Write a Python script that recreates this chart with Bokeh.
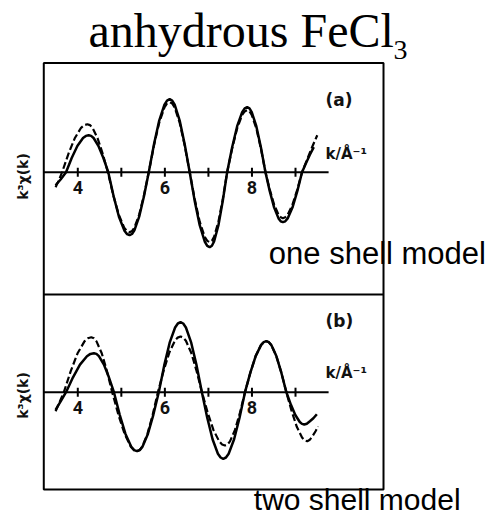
from bokeh.plotting import figure
from bokeh.models import Range1d
from bokeh.core.properties import value
from bokeh.embed import file_html
from bokeh.resources import INLINE

# ---------------- data ----------------
# panel (a): one shell model
a_solid_k = [3.49, 3.61, 3.73, 3.86, 3.99, 4.12, 4.185, 4.25, 4.306, 4.363, 4.475, 4.588, 4.70,
             4.823, 4.945, 5.068, 5.129, 5.19, 5.245, 5.30, 5.41, 5.52, 5.63, 5.75, 5.87, 5.99,
             6.05, 6.11, 6.168, 6.225, 6.34, 6.455, 6.57, 6.685, 6.80, 6.915, 6.973, 7.03, 7.08,
             7.13, 7.23, 7.33, 7.43, 7.545, 7.66, 7.775, 7.833, 7.89, 7.943, 7.995, 8.10, 8.205,
             8.31, 8.41, 8.51, 8.61, 8.66, 8.71, 8.765, 8.82, 8.93, 9.04, 9.15, 9.24, 9.33, 9.42]
a_solid_y = [-1.3, -0.7, 0, 1.42, 2.62, 3.42, 3.63, 3.7, 3.63, 3.42, 2.62, 1.42, 0,
             -2.41, -4.45, -5.82, -6.18, -6.3, -6.18, -5.82, -4.45, -2.41, 0, 2.80, 5.16, 6.75,
             7.16, 7.3, 7.16, 6.75, 5.16, 2.80, 0, -2.87, -5.30, -6.93, -7.36, -7.5, -7.36,
             -6.93, -5.30, -2.87, 0, 2.49, 4.60, 6.01, 6.38, 6.5, 6.38, 6.01, 4.60, 2.49,
             0, -1.92, -3.54, -4.62, -4.91, -5.0, -4.91, -4.62, -3.54, -1.92, 0, 0.9, 1.75, 2.5]

a_dash_k = [3.49, 3.565, 3.64, 3.785, 3.93, 4.075, 4.148, 4.22, 4.279, 4.338, 4.455, 4.573, 4.69,
            4.815, 4.94, 5.065, 5.128, 5.19, 5.245, 5.30, 5.41, 5.52, 5.63, 5.75, 5.87, 5.99,
            6.05, 6.11, 6.168, 6.225, 6.34, 6.455, 6.57, 6.685, 6.80, 6.915, 6.973, 7.03, 7.08,
            7.13, 7.23, 7.33, 7.43, 7.545, 7.66, 7.775, 7.833, 7.89, 7.943, 7.995, 8.10, 8.205,
            8.31, 8.41, 8.51, 8.61, 8.66, 8.71, 8.765, 8.82, 8.93, 9.04, 9.15, 9.27, 9.39, 9.50]
a_dash_y = [-1.5, -0.8, 0, 1.84, 3.39, 4.44, 4.71, 4.8, 4.71, 4.44, 3.39, 1.84, 0,
            -2.30, -4.24, -5.54, -5.89, -6.0, -5.89, -5.54, -4.24, -2.30, 0, 2.68, 4.95, 6.47,
            6.87, 7.0, 6.87, 6.47, 4.95, 2.68, 0, -2.68, -4.95, -6.47, -6.87, -7.0, -6.87,
            -6.47, -4.95, -2.68, 0, 2.37, 4.38, 5.73, 6.08, 6.2, 6.08, 5.73, 4.38, 2.37,
            0, -1.76, -3.25, -4.25, -4.51, -4.6, -4.51, -4.25, -3.25, -1.76, 0, 1.3, 2.6, 3.7]

# panel (b): two shell model
b_solid_k = [3.49, 3.61, 3.73, 3.89, 4.05, 4.21, 4.29, 4.37, 4.428, 4.485, 4.60, 4.715, 4.83,
             4.963, 5.095, 5.228, 5.294, 5.36, 5.423, 5.485, 5.61, 5.735, 5.86, 5.985, 6.11,
             6.235, 6.298, 6.36, 6.421, 6.483, 6.605, 6.728, 6.85, 6.973, 7.095, 7.218, 7.279,
             7.34, 7.403, 7.465, 7.59, 7.715, 7.84, 7.963, 8.085, 8.208, 8.269, 8.33, 8.388,
             8.445, 8.56, 8.675, 8.79, 8.893, 8.995, 9.098, 9.149, 9.20, 9.26, 9.33, 9.41, 9.49]
b_solid_y = [-1.76, -0.9, 0, 1.49, 2.76, 3.60, 3.83, 3.9, 3.83, 3.60, 2.76, 1.49, 0,
             -2.26, -4.17, -5.45, -5.79, -5.9, -5.79, -5.45, -4.17, -2.26, 0, 2.68, 4.95,
             6.47, 6.87, 7.0, 6.87, 6.47, 4.95, 2.68, 0, -2.55, -4.71, -6.15, -6.53,
             -6.66, -6.53, -6.15, -4.71, -2.55, 0, 1.95, 3.61, 4.71, 5.00, 5.1, 5.00,
             4.71, 3.61, 1.95, 0, -1.24, -2.28, -2.98, -3.17, -3.23, -3.15, -2.9, -2.6, -2.2]

b_dash_k = [3.49, 3.585, 3.68, 3.838, 3.995, 4.153, 4.231, 4.31, 4.37, 4.43, 4.55, 4.67, 4.79,
            4.933, 5.075, 5.218, 5.289, 5.36, 5.42, 5.48, 5.60, 5.72, 5.84, 5.97, 6.10, 6.23,
            6.295, 6.36, 6.421, 6.483, 6.605, 6.728, 6.85, 6.983, 7.115, 7.248, 7.314, 7.38,
            7.438, 7.495, 7.61, 7.725, 7.84, 7.963, 8.085, 8.208, 8.269, 8.33, 8.388, 8.445,
            8.56, 8.675, 8.79, 8.91, 9.03, 9.15, 9.21, 9.27, 9.33, 9.39, 9.46, 9.52]
b_dash_y = [-1.9, -0.95, 0, 2.11, 3.89, 5.08, 5.40, 5.5, 5.40, 5.08, 3.89, 2.11, 0,
            -2.26, -4.17, -5.45, -5.79, -5.9, -5.79, -5.45, -4.17, -2.26, 0, 2.13, 3.94, 5.15,
            5.46, 5.57, 5.46, 5.15, 3.94, 2.13, 0, -2.04, -3.77, -4.92, -5.23, -5.33,
            -5.23, -4.92, -3.77, -2.04, 0, 1.95, 3.61, 4.71, 5.00, 5.1, 5.00, 4.71,
            3.61, 1.95, 0, -1.88, -3.46, -4.53, -4.81, -4.9, -4.75, -4.4, -3.9, -3.43]

tick_k = [4, 5, 6, 7, 8, 9]
tick_label_k = [4, 6, 8]
tick_labels = ["4", "6", "8"]
axis_k_end = 9.76

title_text = "anhydrous FeCl"
title_sub = "3"
caption_a = "one shell model"
caption_b = "two shell model"
ylabel_text = "k³χ(k)"
xlabel_text = "k/Å⁻¹"

# ---------------- figure (frame = whole window) ----------------
p = figure(width=494, height=517, output_backend="svg", toolbar_location=None,
           x_range=Range1d(2.225, 13.570), y_range=Range1d(-34.53, 17.17),
           x_axis_type=None, y_axis_type=None, min_border=0)
p.extra_y_ranges = {"b": Range1d(-12.53, 39.17)}
p.title.visible = False
p.outline_line_color = None
p.background_fill_color = "white"
p.border_fill_color = "white"

# panel boxes (in panel-a units)
BOX_L, BOX_R = 3.219, 11.021
p.quad(left=[BOX_L], right=[BOX_R], top=[10.92], bottom=[-31.73],
       fill_color=None, line_color="black", line_width=2)
p.segment(x0=[BOX_L], y0=[-12.23], x1=[BOX_R], y1=[-12.23], line_color="black", line_width=2)

mono = dict(line_color="black", line_width=2)
for rng in ["default", "b"]:
    p.segment(x0=[BOX_L], y0=[0], x1=[axis_k_end], y1=[0], y_range_name=rng, **mono)
    p.segment(x0=tick_k, y0=[-0.45] * len(tick_k), x1=tick_k, y1=[0.45] * len(tick_k),
              y_range_name=rng, **mono)
    p.text(x=tick_label_k, y=[-1.53] * 3, text=tick_labels, y_range_name=rng,
           text_font=value("Roboto"), text_font_size="18px", text_font_style="bold",
           text_align="center", text_baseline="alphabetic", text_color="#111111")
    p.text(x=[9.689], y=[1.8 if rng == "default" else 1.9], text=[xlabel_text],
           y_range_name=rng, text_font=value("DejaVu Sans"), text_font_size="15px",
           text_font_style="bold", text_align="left", text_baseline="alphabetic",
           text_color="#111111")

p.text(x=[9.689], y=[7.27], text=["(a)"], text_font=value("DejaVu Sans"),
       text_font_size="17px", text_font_style="bold", text_align="left",
       text_baseline="middle", text_color="#111111")
p.text(x=[9.689], y=[7.17], text=["(b)"], y_range_name="b", text_font=value("DejaVu Sans"),
       text_font_size="17px", text_font_style="bold", text_align="left",
       text_baseline="middle", text_color="#111111")

# curves
p.line(a_solid_k, a_solid_y, line_color="black", line_width=2.5)
p.line(a_dash_k, a_dash_y, line_color="black", line_width=2.2, line_dash="7 3")
p.line(b_solid_k, b_solid_y, line_color="black", line_width=2.5, y_range_name="b")
p.line(b_dash_k, b_dash_y, line_color="black", line_width=2.2, line_dash="7 3", y_range_name="b")

# y labels (rotated)
for yy, rng in [(-0.43, "default"), (-0.33, "b")]:
    p.text(x=[2.748], y=[yy], y_range_name=rng, text=[ylabel_text], angle=1.5708,
           text_font=value("DejaVu Sans"), text_font_size="14px", text_font_style="bold",
           text_align="center", text_baseline="middle", text_color="#111111")

# title
p.text(x=[4.246], y=[14.18], text=[title_text], text_font=value("Liberation Serif"),
       text_font_size="48px", text_align="left", text_baseline="alphabetic",
       text_color="black")
p.text(x=[11.251], y=[12.25], text=[title_sub], text_font=value("Liberation Serif"),
       text_font_size="28px", text_align="left", text_baseline="alphabetic",
       text_color="black")

# captions
p.text(x=[8.387], y=[-8.14], text=[caption_a], text_font=value("Liberation Sans"),
       text_font_size="31px", text_align="left", text_baseline="alphabetic",
       text_color="black")
p.text(x=[8.042], y=[-32.75], text=[caption_b], text_font=value("Liberation Sans"),
       text_font_size="30px", text_align="left", text_baseline="alphabetic",
       text_color="black")

open("out.html", "w").write(file_html(p, INLINE))
